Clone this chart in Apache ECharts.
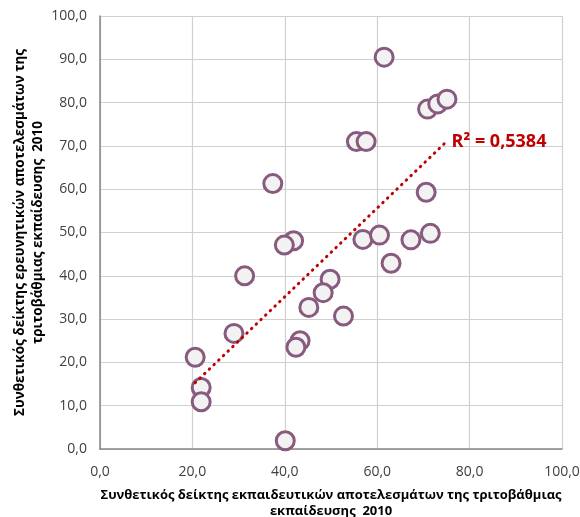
<!DOCTYPE html>
<html>
<head>
<meta charset="utf-8">
<script src="https://cdn.jsdelivr.net/npm/echarts@6/dist/echarts.min.js"></script>
<style>
html,body{margin:0;padding:0;background:#fff;}
#chart{width:580px;height:517px;}
</style>
</head>
<body>
<div id="chart"></div>
<script>
// x: education outcomes index 2010, y: research outcomes index 2010
const xValues = [61.5, 70.9, 73.1, 75.1, 55.5, 57.6, 70.6, 37.4, 41.9, 39.9, 31.3, 49.8, 48.3, 45.2, 52.7, 29.0, 43.3, 42.4, 20.6, 21.9, 21.9, 40.1, 56.9, 60.5, 67.3, 71.5, 63.0];
const yValues = [90.5, 78.5, 79.7, 80.8, 71.0, 71.0, 59.3, 61.3, 48.1, 47.1, 40.0, 39.2, 36.1, 32.7, 30.7, 26.7, 25.0, 23.5, 21.2, 14.2, 10.9, 1.9, 48.4, 49.4, 48.3, 49.8, 42.9];
const trendX = [20.6, 75.0];
const trendY = [15.3, 71.0];
const r2Label = 'R² = 0,5384';
const xTitle = 'Συνθετικός δείκτης εκπαιδευτικών αποτελεσμάτων της τριτοβάθμιας\nεκπαίδευσης  2010';
const yTitle = 'Συνθετικός δείκτης ερευνητικών αποτελεσμάτων της\nτριτοβάθμιας εκπαίδευσης  2010';

const pts = xValues.map((x, i) => [x, yValues[i]]);
const trend = trendX.map((x, i) => [x, trendY[i]]);
const fmt = v => v.toFixed(1).replace('.', ',');
const FONT = '"Open Sans", "Noto Sans", sans-serif';

const chart = echarts.init(document.getElementById('chart'));
chart.setOption({
  animation: false,
  grid: {left: 100, right: 18, top: 16, bottom: 68, containLabel: false, outerBoundsMode: 'none'},
  xAxis: {
    type: 'value', min: 0, max: 100, interval: 20,
    axisLine: {show: true, lineStyle: {color: '#868686', width: 1.5}},
    axisTick: {show: false},
    splitLine: {show: true, lineStyle: {color: '#d0d0d0', width: 1.2}},
    axisLabel: {formatter: fmt, color: '#404040', fontSize: 14, fontFamily: FONT, margin: 16},
    name: xTitle, nameLocation: 'middle', nameGap: 38, nameMoveOverlap: false,
    nameTextStyle: {color: '#000', fontWeight: 'bold', fontSize: 13, fontFamily: FONT, lineHeight: 16.5}
  },
  yAxis: {
    type: 'value', min: 0, max: 100, interval: 10,
    axisLine: {show: true, lineStyle: {color: '#868686', width: 1.5}},
    axisTick: {show: false},
    splitLine: {show: true, lineStyle: {color: '#d0d0d0', width: 1.2}},
    axisLabel: {formatter: fmt, color: '#404040', fontSize: 14, fontFamily: FONT, margin: 13},
    name: yTitle, nameLocation: 'middle', nameGap: 53, nameRotate: 90, nameMoveOverlap: false,
    nameTextStyle: {color: '#000', fontWeight: 'bold', fontSize: 13.5, fontFamily: FONT, lineHeight: 18}
  },
  series: [
    {
      type: 'scatter', data: pts, symbol: 'circle', symbolSize: 18, z: 2,
      itemStyle: {color: '#f2f2f2', borderColor: '#875a7e', borderWidth: 3, opacity: 1}
    },
    {
      type: 'line', data: trend, showSymbol: false, symbol: 'none', z: 5,
      lineStyle: {color: '#c00000', width: 3, type: [0.5, 6], cap: 'round'},
      endLabel: {show: true, formatter: r2Label, color: '#c00000', fontWeight: 'bold', fontSize: 18, fontFamily: FONT, distance: 5, offset: [0, 0]}
    }
  ]
});
</script>
</body>
</html>
